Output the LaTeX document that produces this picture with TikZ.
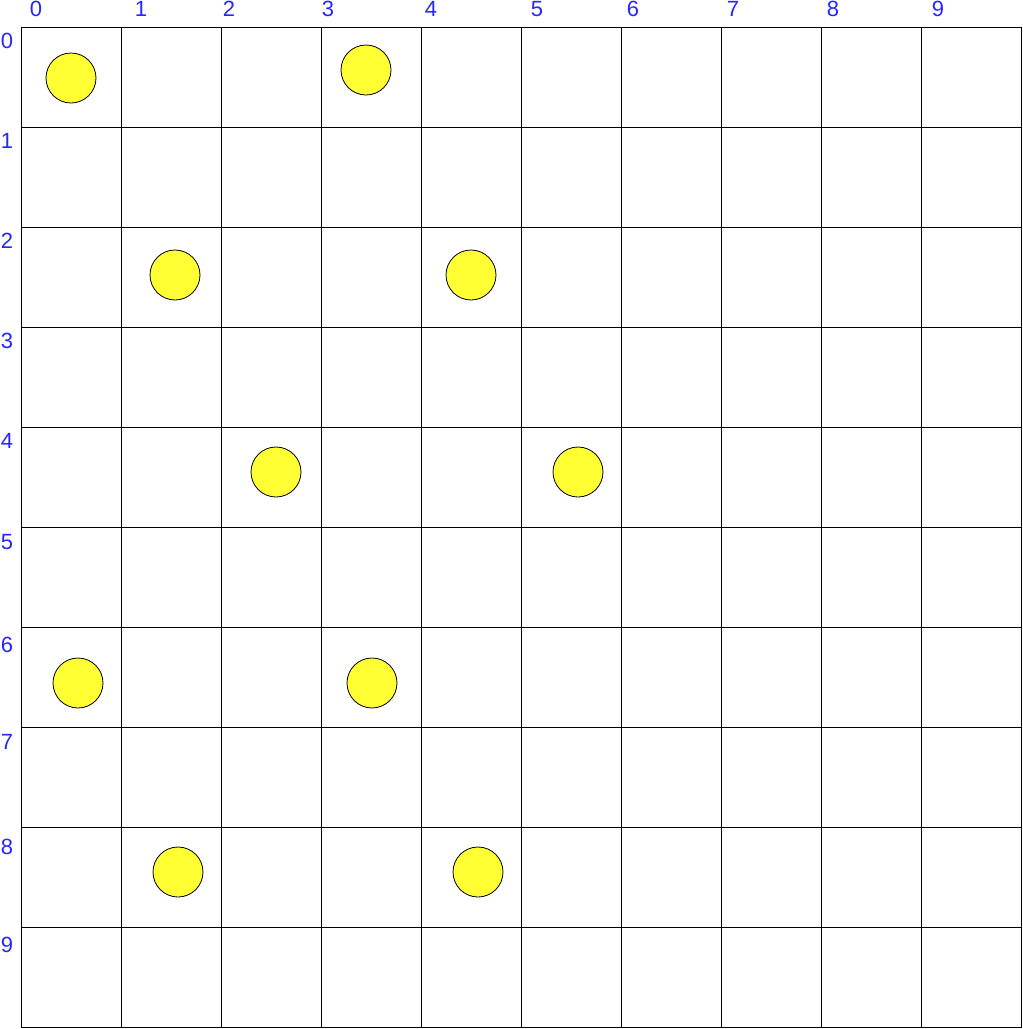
\documentclass[tikz,border=0pt]{standalone}
\usepackage{fontspec}
\setmainfont{Liberation Sans}
\definecolor{lblblue}{HTML}{2626FF}
\definecolor{dotyellow}{HTML}{FFFF33}
\begin{document}
\begin{tikzpicture}[x=1pt,y=-1pt,
  lbl/.style={text=lblblue,font=\fontsize{22}{24}\selectfont,inner sep=0pt,anchor=center},
  dot/.style={circle,draw=black,line width=0.8pt,fill=dotyellow,minimum size=50pt,inner sep=0pt}]
\useasboundingbox (0,0) rectangle (1023,1029);
\foreach \i in {0,...,10} {
  \draw[line width=1pt] (21+100*\i,27) -- (21+100*\i,1028);
  \draw[line width=1pt] (21,27+100*\i) -- (1022,27+100*\i);
}
\foreach \n/\x in {0/36,1/141,2/229,3/328,4/431,5/537,6/633,7/733,8/833,9/938}
  \node[lbl] (c\n) at (\x,9) {\n};
\foreach \n/\y in {0/41,1/141,2/241,3/341,4/441,5/542,6/645,7/742,8/847,9/945}
  \node[lbl] (r\n) at (7,\y) {\n};
\node[dot] (d1) at (71,78) {};
\node[dot] (d2) at (366,70) {};
\node[dot] (d3) at (175,275) {};
\node[dot] (d4) at (471,275) {};
\node[dot] (d5) at (276,472) {};
\node[dot] (d6) at (578,472) {};
\node[dot] (d7) at (78,683) {};
\node[dot] (d8) at (372,683) {};
\node[dot] (d9) at (178,872) {};
\node[dot] (d10) at (478,872) {};
\end{tikzpicture}
\end{document}
